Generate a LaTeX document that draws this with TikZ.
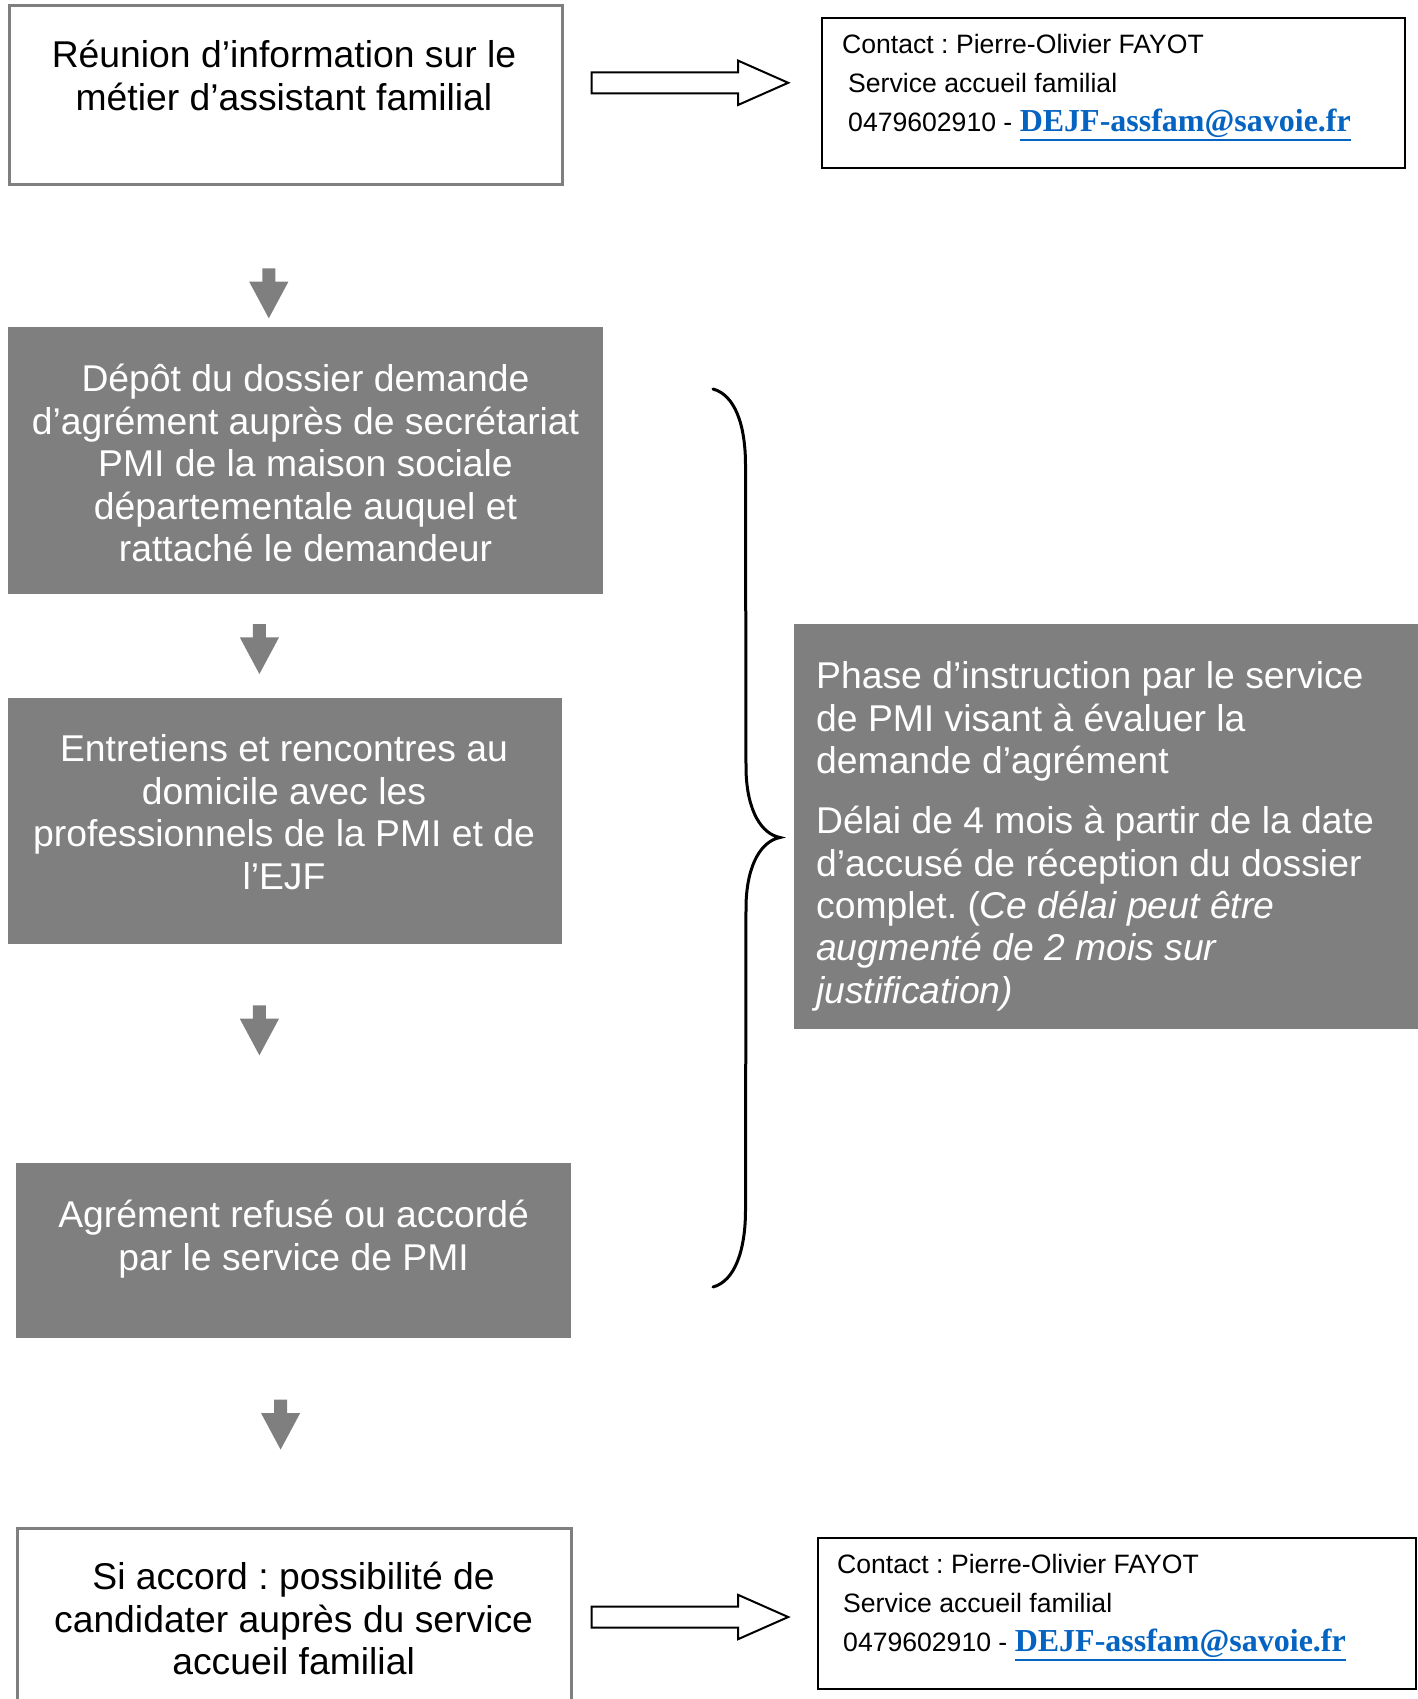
\documentclass[tikz,border=0pt]{standalone}
\usepackage{fontspec}
\setmainfont{Liberation Sans}
\newfontfamily\emailfont{Liberation Serif}
\definecolor{boxgray}{RGB}{127,127,127}
\definecolor{linkblue}{RGB}{5,99,193}
\newcommand\maillink[1]{{\color{linkblue}\emailfont\bfseries\fontsize{32}{39}\selectfont\vtop{\hbox{#1}\kern1.5pt\hrule height 2.6pt}}}
\frenchspacing
\begin{document}
\begin{tikzpicture}[x=1pt,y=-1pt,
  outlinebox/.style={draw=boxgray, line width=3pt, fill=white, inner sep=0pt, anchor=north west},
  graybox/.style={fill=boxgray, inner sep=0pt, anchor=north west},
  contactbox/.style={draw=black, line width=2pt, fill=white, inner sep=0pt, anchor=north west},
  bigtext/.style={font=\fontsize{37.3}{42.5}\selectfont, align=center, inner sep=0pt},
  whitetext/.style={bigtext, text=white},
  righttext/.style={font=\fontsize{37.3}{42.4}\selectfont, align=left, inner sep=0pt, text=white, anchor=west},
  contacttext/.style={font=\fontsize{26.6}{39}\selectfont, align=left, inner sep=0pt, anchor=west},
  downarr/.pic={\fill[boxgray] (-6.5,0) -- (6.5,0) -- (6.5,13.4) -- (19.6,13.4) -- (0,50) -- (-19.6,13.4) -- (-6.5,13.4) -- cycle;},
  hollowarr/.pic={\draw[line width=2pt, fill=white, line join=miter] (0,-10.5) -- (146.3,-10.5) -- (146.3,-22.2) -- (196.5,0) -- (146.3,22.2) -- (146.3,10.5) -- (0,10.5) -- cycle;},
  bracestyle/.style={line width=3pt, line cap=round}
]
\useasboundingbox (0,0) rectangle (1418,1699);

% boxes
\node[outlinebox, minimum width=553.4pt, minimum height=178.7pt] (b1) at (7.6,4.3) {};
\node[graybox, minimum width=595.4pt, minimum height=267pt] (b2) at (7.6,327) {};
\node[graybox, minimum width=554.4pt, minimum height=246pt] (b3) at (7.6,698) {};
\node[graybox, minimum width=555pt, minimum height=175pt] (b4) at (16,1163) {};
\node[outlinebox, minimum width=554pt, minimum height=200pt] (b5) at (16,1527) {};
\node[graybox, minimum width=640pt, minimum height=405pt] (b6) at (794,624) {};
\node[contactbox, minimum width=583pt, minimum height=150pt] (c1) at (821,17) {};
\node[contactbox, minimum width=598pt, minimum height=151pt] (c2) at (817,1537) {};

% texts
\node[bigtext] (t1) at (284,75.5) {Réunion d’information sur le\\métier d’assistant familial};
\node[whitetext] (t2) at (305.5,463) {Dépôt du dossier demande\\d’agrément auprès de secrétariat\\PMI de la maison sociale\\départementale auquel et\\rattaché le demandeur};
\node[whitetext] (t3) at (284,812) {Entretiens et rencontres au\\domicile avec les\\professionnels de la PMI et de\\l’EJF};
\node[whitetext] (t4) at (293.6,1239) {Agrément refusé ou accordé\\par le service de PMI};
\node[bigtext] (t5) at (293.6,1618.5) {Si accord : possibilité de\\candidater auprès du service\\accueil familial};
\node[righttext] (t6) at (816,836.5) {Phase d’instruction par le service\\de PMI visant à évaluer la\\demande d’agrément\\[17.6pt]Délai de 4 mois à partir de la date\\d’accusé de réception du dossier\\complet. (\textit{Ce délai peut être}\\\textit{augmenté de 2 mois sur}\\\textit{justification)}};
\node[contacttext] (k1) at (842,87.5) {Contact : Pierre-Olivier FAYOT\\\hspace*{6pt}Service accueil familial\\\hspace*{6pt}0479602910 - \maillink{DEJF-assfam@savoie.fr}};
\node[contacttext] (k2) at (837,1607.5) {Contact : Pierre-Olivier FAYOT\\\hspace*{6pt}Service accueil familial\\\hspace*{6pt}0479602910 - \maillink{DEJF-assfam@savoie.fr}};

% hollow arrows between boxes and contacts
\coordinate (h1) at (591.7,82.8);
\coordinate (h2) at (591.7,1617);
\pic at (h1) {hollowarr};
\pic at (h2) {hollowarr};

% down arrows
\coordinate (d1) at (268.8,268.3);
\coordinate (d2) at (259.4,624);
\coordinate (d3) at (259.4,1005.3);
\coordinate (d4) at (280.6,1399.6);
\pic at (d1) {downarr};
\pic at (d2) {downarr};
\pic at (d3) {downarr};
\pic at (d4) {downarr};

% brace
\coordinate (brtop) at (713,389);
\coordinate (brtip) at (780,837.5);
\coordinate (brbot) at (713,1287);
\draw[bracestyle] (brtop) .. controls (735,395) and (745.5,425) .. (745.5,465)
  -- (746,770) .. controls (747,812) and (762,834) .. (brtip)
  .. controls (762,841) and (747,863) .. (746,905)
  -- (745.5,1210) .. controls (745.5,1250) and (735,1281) .. (brbot);
\end{tikzpicture}
\end{document}
